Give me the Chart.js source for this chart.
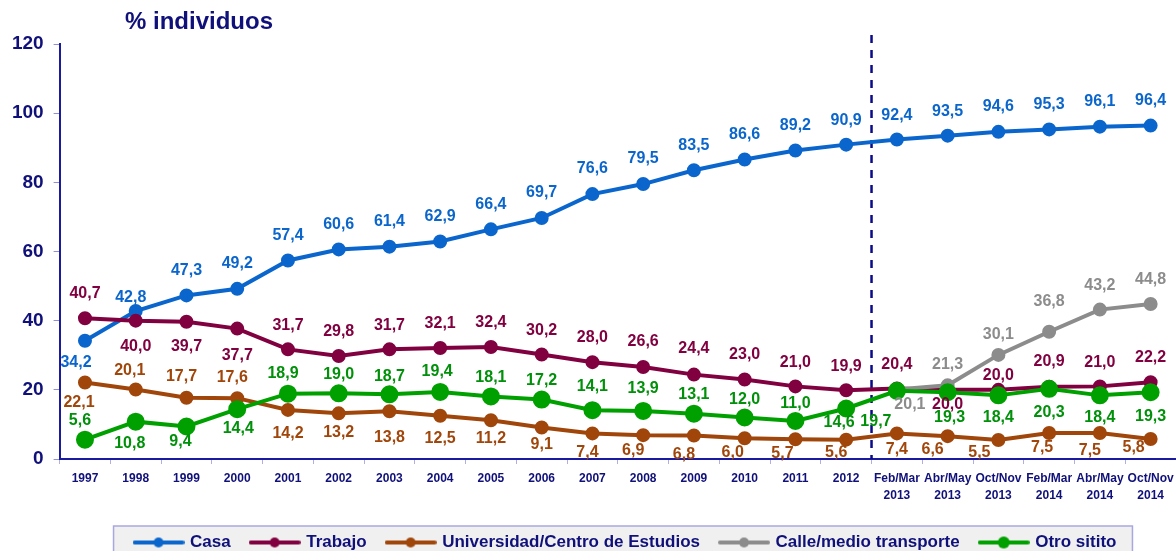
<!DOCTYPE html>
<html><head><meta charset="utf-8">
<script src="https://cdn.jsdelivr.net/npm/chart.js@4.4.1/dist/chart.umd.min.js"></script>
<style>html,body{margin:0;padding:0;background:#fff;overflow:hidden}canvas{display:block}</style>
</head><body>
<canvas id="c" width="1176" height="551"></canvas>
<script>
// ---------- DATA ----------
const categories = ['1997','1998','1999','2000','2001','2002','2003','2004','2005','2006','2007','2008','2009','2010','2011','2012',
  ['Feb/Mar','2013'],['Abr/May','2013'],['Oct/Nov','2013'],['Feb/Mar','2014'],['Abr/May','2014'],['Oct/Nov','2014']];
const seriesNames = ['Casa','Trabajo','Universidad/Centro de Estudios','Calle/medio transporte','Otro sitito'];
const casa = [34.2,42.8,47.3,49.2,57.4,60.6,61.4,62.9,66.4,69.7,76.6,79.5,83.5,86.6,89.2,90.9,92.4,93.5,94.6,95.3,96.1,96.4];
const trabajo = [40.7,40.0,39.7,37.7,31.7,29.8,31.7,32.1,32.4,30.2,28.0,26.6,24.4,23.0,21.0,19.9,20.4,20.0,20.0,20.9,21.0,22.2];
const universidad = [22.1,20.1,17.7,17.6,14.2,13.2,13.8,12.5,11.2,9.1,7.4,6.9,6.8,6.0,5.7,5.6,7.4,6.6,5.5,7.5,7.5,5.8];
const calle = [null,null,null,null,null,null,null,null,null,null,null,null,null,null,null,null,20.1,21.3,30.1,36.8,43.2,44.8];
const otro = [5.6,10.8,9.4,14.4,18.9,19.0,18.7,19.4,18.1,17.2,14.1,13.9,13.1,12.0,11.0,14.6,19.7,19.3,18.4,20.3,18.4,19.3];
const yTickValues = [0,20,40,60,80,100,120];
const splitAfterIndex = 15; // dashed separator between 2012 and Feb/Mar 2013

// ---------- STYLE ----------
const colors = ['#0a66cc','#800040','#a0460a','#8c8c8c','#00a000'];
const labelColors = ['#0a66cc','#800040','#a0460a','#8c8c8c','#00900a'];
const pointRadii = [5,5,5,5,7];
const navy = '#10107a';
const FONT = '"Liberation Sans", Arial, sans-serif';
const PAD_BOTTOM = -10;
const LEGEND_SHIFT = 38;
// label placement (dy, dx) relative to point
const labelDy = [
  [22,-13,-25,-25,-25,-25,-25,-25,-25,-25,-25,-25,-25,-25,-25,-24,-24,-24,-25,-25,-25,-25],
  [-25,26,25,27,-24,-24,-24,-24,-24,-24,-25,-25,-26,-25,-24,-24,-24,15,-14,-25,-24,-25],
  [20,-19,-21,-21,24,19,26,23,18,17,19,15,19,14,14,13,16,13,13,15,18,9],
  [0,0,0,0,0,0,0,0,0,0,0,0,0,0,0,0,15,-21,-20,-30,-24,-24],
  [-19,22,15,19,-20,-19,-18,-20,-19,-19,-24,-22,-19,-18,-17,14,31,25,22,24,22,24]
];
const labelDx = [
  [-9,-5,0,0,0,0,0,0,0,0,0,0,0,0,0,0,0,0,0,0,0,0],
  [0,0,0,0,0,0,0,0,0,0,0,0,0,0,0,0,0,0,0,0,0,0],
  [-6,-6,-5,-5,0,0,0,0,0,0,-5,-10,-10,-12,-13,-10,0,-15,-19,-7,-10,-17],
  [0,0,0,0,0,0,0,0,0,0,0,0,0,0,0,0,13,0,0,0,0,0],
  [-5,-6,-6,1,-5,0,0,-3,0,0,0,0,0,0,0,-7,-21,2,0,0,0,0]
];

const seriesData = [casa, trabajo, universidad, calle, otro];

function legendIcon(color, r) {
  const c = document.createElement('canvas');
  c.width = 52; c.height = 16;
  const g = c.getContext('2d');
  g.strokeStyle = color; g.lineWidth = 4; g.lineCap = 'round';
  g.beginPath(); g.moveTo(2, 8); g.lineTo(50, 8); g.stroke();
  g.fillStyle = color; g.beginPath(); g.arc(26, 8, r, 0, Math.PI * 2); g.fill();
  return c;
}

const titlePlugin = {
  id: 'titleText',
  afterDraw(chart) {
    const ctx = chart.ctx;
    ctx.save();
    ctx.font = 'bold 24px ' + FONT;
    ctx.fillStyle = navy;
    ctx.textBaseline = 'middle';
    ctx.textAlign = 'left';
    ctx.fillText('% individuos', 125, 22);
    ctx.restore();
  }
};

const legendBoxPlugin = {
  id: 'legendBox',
  afterLayout(chart) {
    const lg = chart.legend;
    if (!lg) return;
    lg.left += LEGEND_SHIFT;
    lg.right += LEGEND_SHIFT;
    (lg.legendHitBoxes || []).forEach(h => { h.left += LEGEND_SHIFT; });
  },
  beforeDraw(chart) {
    const hb = chart.legend && chart.legend.legendHitBoxes;
    if (!hb || !hb.length) return;
    const left = Math.min(...hb.map(h => h.left)) - 22;
    const right = Math.max(...hb.map(h => h.left + h.width)) + 16;
    const top = hb[0].top + hb[0].height / 2 - 16.5;
    const ctx = chart.ctx;
    ctx.save();
    ctx.fillStyle = '#f0f0f0';
    ctx.fillRect(left, top, right - left, chart.height - top + 5);
    ctx.strokeStyle = '#a8a8e0';
    ctx.lineWidth = 1.5;
    ctx.strokeRect(left, top, right - left, chart.height - top + 5);
    ctx.restore();
  }
};

const separatorPlugin = {
  id: 'separator',
  beforeDatasetsDraw(chart) {
    const xs = chart.scales.x, ca = chart.chartArea;
    const x = (xs.getPixelForValue(splitAfterIndex) + xs.getPixelForValue(splitAfterIndex + 1)) / 2;
    const ctx = chart.ctx;
    ctx.save();
    ctx.strokeStyle = '#0a0a8a';
    ctx.lineWidth = 2.5;
    ctx.setLineDash([8, 7]);
    ctx.beginPath();
    ctx.moveTo(x, ca.top - 9);
    ctx.lineTo(x, ca.bottom);
    ctx.stroke();
    ctx.restore();
  }
};

const valueLabelPlugin = {
  id: 'valueLabels',
  afterDatasetsDraw(chart) {
    const ctx = chart.ctx;
    ctx.save();
    ctx.font = 'bold 16px ' + FONT;
    ctx.textAlign = 'center';
    ctx.textBaseline = 'middle';
    chart.data.datasets.forEach((ds, di) => {
      const meta = chart.getDatasetMeta(di);
      ctx.fillStyle = labelColors[di];
      meta.data.forEach((pt, i) => {
        const v = ds.data[i];
        if (v === null || v === undefined) return;
        const txt = v.toFixed(1).replace('.', ',');
        ctx.fillText(txt, pt.x + labelDx[di][i], pt.y + labelDy[di][i]);
      });
    });
    ctx.restore();
  }
};

const drawOrder = [4, 3, 2, 1, 0];

new Chart(document.getElementById('c'), {
  type: 'line',
  data: {
    labels: categories,
    datasets: seriesData.map((d, i) => ({
      label: seriesNames[i],
      data: d,
      borderColor: colors[i],
      backgroundColor: colors[i],
      pointBackgroundColor: colors[i],
      pointBorderColor: colors[i],
      borderWidth: 4,
      pointRadius: pointRadii[i],
      pointHoverRadius: pointRadii[i],
      tension: 0,
      spanGaps: false,
      clip: false,
      order: drawOrder[i]
    }))
  },
  options: {
    responsive: false,
    maintainAspectRatio: false,
    animation: false,
    layout: { autoPadding: false, padding: { top: 44, left: 0, right: 0, bottom: PAD_BOTTOM } },
    plugins: {
      tooltip: { enabled: false },
      title: { display: false },
      legend: {
        position: 'bottom',
        labels: {
          usePointStyle: true,
          pointStyleWidth: 46,
          boxHeight: 16,
          padding: 21,
          color: navy,
          font: { family: FONT, size: 17, weight: 'bold' },
          generateLabels(chart) {
            return chart.data.datasets.map((ds, i) => ({
              text: ds.label,
              fillStyle: colors[i],
              strokeStyle: colors[i],
              lineWidth: 0,
              pointStyle: legendIcon(colors[i], i === 4 ? 6 : 5),
              hidden: false,
              datasetIndex: i,
              fontColor: navy
            }));
          }
        }
      }
    },
    scales: {
      x: {
        offset: true,
        grid: { display: true, drawOnChartArea: false, drawTicks: true, tickLength: 5, color: '#b0b0d8', offset: true },
        border: { display: true, color: '#1a1aa0', width: 2 },
        ticks: {
          autoSkip: false, maxRotation: 0, minRotation: 0, padding: 6,
          color: navy, font: { family: FONT, size: 12, weight: 'bold', lineHeight: 1.4 }
        },
        afterFit(scale) {
          const lg = scale.chart.legend;
          scale.height = 551 - PAD_BOTTOM - 459 - (lg ? lg.height : 0);
          scale.paddingLeft = 0;
          scale.paddingRight = 0;
        }
      },
      y: {
        min: 0, max: 120,
        afterBuildTicks(scale) { scale.ticks = yTickValues.map(v => ({ value: v })); },
        grid: { display: true, drawOnChartArea: false, drawTicks: true, tickLength: 6, color: '#9090d0' },
        border: { display: true, color: '#1a1aa0', width: 2 },
        ticks: { color: navy, padding: 10, font: { family: FONT, size: 19, weight: 'bold' } },
        afterFit(scale) { scale.width = 59.6; }
      }
    }
  },
  plugins: [titlePlugin, legendBoxPlugin, separatorPlugin, valueLabelPlugin]
});
</script>
</body></html>
